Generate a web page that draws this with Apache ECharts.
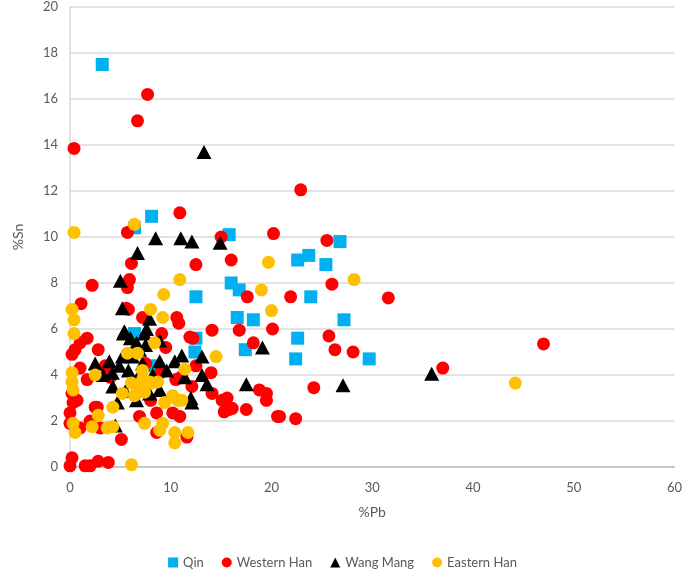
<!DOCTYPE html>
<html><head><meta charset="utf-8">
<script src="https://cdn.jsdelivr.net/npm/echarts@6/dist/echarts.min.js"></script>
<style>html,body{margin:0;padding:0;background:#fff}#c{width:685px;height:570px}</style>
</head><body><div id="c"></div>
<script>
const seriesNames = ['Qin','Western Han','Wang Mang','Eastern Han'];
const xTicks = [0,10,20,30,40,50,60];
const yTicks = [0,2,4,6,8,10,12,14,16,18,20];
const qin = [[3.2,17.5],[8.1,10.9],[6.4,10.4],[15.8,10.1],[16.0,8.0],[16.8,7.7],[12.5,7.4],[16.6,6.5],[18.2,6.4],[22.6,9.0],[23.7,9.2],[25.4,8.8],[26.8,9.8],[23.9,7.4],[27.2,6.4],[22.6,5.6],[22.4,4.7],[29.7,4.7],[6.4,5.8],[12.5,5.6],[12.4,5.0],[17.4,5.1],[8.1,4.4]];
const westernHan = [[7.7,16.2],[6.7,15.05],[0.4,13.85],[22.9,12.05],[10.9,11.05],[5.7,10.2],[15.0,10.0],[20.2,10.15],[16.0,9.0],[12.5,8.8],[6.1,8.85],[5.9,8.15],[5.7,7.8],[2.2,7.9],[1.1,7.1],[17.6,7.4],[5.8,6.85],[7.2,6.5],[10.6,6.5],[10.8,6.25],[25.5,9.85],[26.0,7.95],[21.9,7.4],[31.6,7.35],[20.1,6.0],[25.7,5.7],[26.3,5.1],[28.1,5.0],[37.0,4.3],[47.0,5.35],[24.2,3.45],[20.8,2.2],[22.4,2.1],[14.1,5.95],[16.8,5.95],[1.7,5.6],[9.1,5.8],[11.9,5.65],[1.0,5.4],[0.2,4.9],[0.5,5.1],[2.8,5.1],[18.2,5.4],[14.0,4.1],[10.5,3.8],[12.1,3.5],[1.0,4.3],[1.7,3.8],[0.2,3.2],[0.7,2.9],[0.0,2.35],[0.0,1.9],[1.0,1.7],[2.7,2.6],[3.0,1.7],[5.1,1.2],[6.9,2.2],[8.6,2.35],[8.6,1.5],[11.6,1.3],[10.2,2.35],[10.9,2.2],[14.1,3.2],[15.1,2.9],[15.8,2.5],[17.5,2.5],[19.5,2.9],[18.8,3.35],[19.5,3.2],[20.6,2.2],[15.6,3.0],[15.3,2.4],[16.1,2.55],[0.2,0.4],[0.0,0.05],[1.5,0.05],[2.0,0.05],[2.8,0.25],[3.8,0.2],[12.2,5.6],[0.3,2.8],[2.5,2.6],[7.5,4.5],[9.0,4.1],[4.0,3.9],[6.5,3.6],[8.0,2.9],[3.5,4.4],[12.5,4.4],[9.5,5.2],[2.0,2.0],[5.6,6.9],[11.0,3.9]];
const wangMang = [[13.3,13.7],[8.5,9.95],[11.0,9.95],[12.1,9.8],[14.9,9.75],[6.7,9.3],[5.0,8.1],[5.2,6.9],[7.9,6.45],[5.4,5.9],[7.6,6.0],[6.6,5.4],[8.9,5.5],[8.9,4.6],[11.1,4.85],[10.4,4.6],[13.1,4.8],[19.1,5.2],[2.5,4.5],[4.2,4.1],[4.9,4.4],[13.1,4.0],[13.6,3.6],[17.5,3.6],[12.1,2.8],[8.9,3.35],[4.25,3.5],[4.7,2.8],[6.6,2.9],[4.5,1.8],[27.1,3.55],[35.9,4.05],[5.3,5.8],[7.4,5.8],[6.9,5.1],[5.2,4.8],[7.9,3.2],[6.6,3.8],[11.4,3.9],[3.3,4.0],[5.8,4.2],[7.2,4.5],[6.0,5.6],[8.2,4.0],[5.5,3.3],[9.6,4.2],[12.0,3.0],[3.9,4.6],[6.2,4.8],[7.5,5.3]];
const easternHan = [[0.4,10.2],[6.4,10.55],[19.7,8.9],[10.9,8.15],[9.3,7.5],[19.0,7.7],[20.0,6.8],[0.2,6.85],[8.0,6.85],[9.2,6.5],[28.2,8.15],[0.4,6.4],[0.4,5.8],[8.4,5.4],[5.7,4.95],[6.7,4.95],[14.5,4.8],[7.2,4.2],[11.4,4.25],[2.5,4.0],[0.2,4.1],[0.2,3.7],[0.3,3.35],[6.1,3.65],[7.2,3.8],[7.9,3.7],[8.7,3.7],[5.2,3.2],[6.6,3.2],[9.4,2.8],[10.4,3.0],[11.1,2.9],[4.25,2.6],[2.8,2.25],[2.2,1.75],[3.7,1.7],[4.25,1.75],[7.4,1.9],[9.2,1.9],[8.9,1.6],[10.4,1.5],[10.4,1.05],[11.7,1.5],[0.3,1.9],[0.5,1.5],[6.1,0.1],[44.2,3.65],[6.9,3.4],[8.1,3.65],[6.4,3.1],[7.4,3.25],[10.2,3.1],[10.7,2.9]];

const FONT = 'Lato, "Liberation Sans", sans-serif';
const TXT = '#595959';
const chart = echarts.init(document.getElementById('c'), null, {renderer:'canvas'});
chart.setOption({
  animation:false,
  backgroundColor:'#fff',
  textStyle:{fontFamily:FONT},
  grid:{left:70,right:8,top:7,bottom:103,containLabel:false},
  legend:{
    top:551, left:'center', itemGap:18, itemWidth:10, itemHeight:10,
    textStyle:{color:TXT,fontSize:13,fontFamily:FONT},
    data:[
      {name:seriesNames[0],icon:'rect'},
      {name:seriesNames[1],icon:'circle'},
      {name:seriesNames[2],icon:'triangle'},
      {name:seriesNames[3],icon:'circle'}
    ]
  },
  xAxis:{
    type:'value', min:xTicks[0], max:xTicks[xTicks.length-1], interval:10,
    name:'%Pb', nameLocation:'middle', nameGap:38,
    nameTextStyle:{color:TXT,fontSize:14,fontFamily:FONT},
    axisLine:{show:true,lineStyle:{color:'#bfbfbf',width:1.5}},
    axisTick:{show:false},
    splitLine:{show:false},
    axisLabel:{color:TXT,fontSize:13,margin:14,fontFamily:FONT}
  },
  yAxis:{
    type:'value', min:yTicks[0], max:yTicks[yTicks.length-1], interval:2,
    name:'%Sn', nameLocation:'middle', nameGap:45, nameRotate:90,
    nameTextStyle:{color:TXT,fontSize:14,fontFamily:FONT},
    axisLine:{show:true,lineStyle:{color:'#d9d9d9',width:1.5}},
    axisTick:{show:false},
    splitLine:{show:true,lineStyle:{color:'#d9d9d9',width:1.5}},
    axisLabel:{color:TXT,fontSize:13,margin:12,fontFamily:FONT}
  },
  series:[
    {name:seriesNames[0],type:'scatter',symbol:'rect',symbolSize:13,itemStyle:{color:'#00B0F0',opacity:1},data:qin},
    {name:seriesNames[1],type:'scatter',symbol:'circle',symbolSize:13,itemStyle:{color:'#FF0000',opacity:1},data:westernHan},
    {name:seriesNames[2],type:'scatter',symbol:'triangle',symbolSize:[15,14],itemStyle:{color:'#000000',opacity:1},data:wangMang},
    {name:seriesNames[3],type:'scatter',symbol:'circle',symbolSize:13,itemStyle:{color:'#FFC000',opacity:1},data:easternHan}
  ]
});
</script></body></html>
